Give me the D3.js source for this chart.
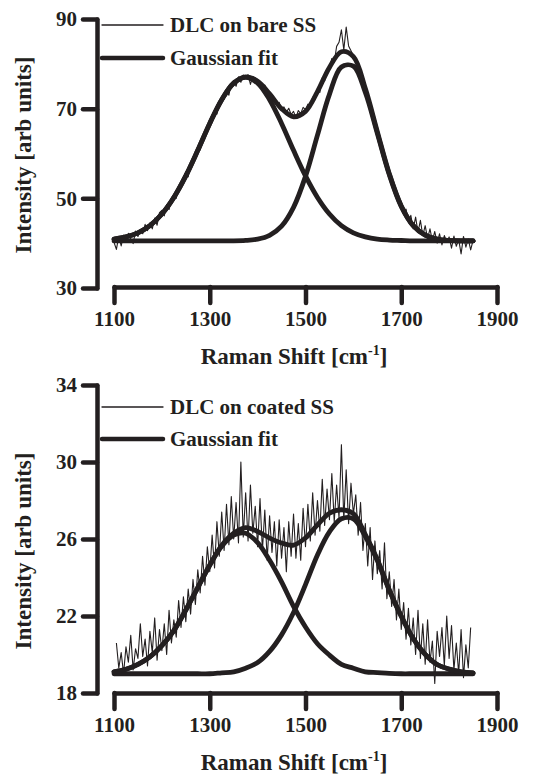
<!DOCTYPE html>
<html>
<head lang="en">
    <meta charset="UTF-8">
    <title>Raman spectra</title>
    <script src="https://cdn.jsdelivr.net/npm/d3@7/dist/d3.min.js"></script>
    <style>
        body{margin:0;background:#fff;}
        text{font-family:"Liberation Serif","Times New Roman",serif;font-weight:bold;fill:#231f20;}
    </style>
</head>
<body>
<div id="tu1"></div>
<script>
    // x grid of the fitted curves (cm-1)
    var fitx=[1100,1125,1150,1175,1200,1225,1250,1275,1300,1325,1350,1375,1400,1425,1450,1475,
              1500,1525,1550,1575,1600,1625,1650,1675,1700,1725,1750,1775,1800,1825,1850];

    // top panel: DLC on bare SS
    var bareD=[40.9,41.4,42.3,43.9,46.5,50.2,55.0,60.7,66.7,72.0,75.7,77.0,75.7,72.0,66.7,60.7,
               55.0,50.2,46.5,43.9,42.3,41.4,40.9,40.7,40.6,40.5,40.5,40.5,40.5,40.5,40.5];
    var bareG=[40.5,40.5,40.5,40.5,40.5,40.5,40.5,40.5,40.5,40.5,40.5,40.6,40.9,41.75,43.8,48.0,
               54.9,64.1,73.2,79.3,79.5,73.6,64.5,55.3,48.2,43.9,41.8,40.9,40.6,40.5,40.5];
    var bareSum=[40.9,41.4,42.3,43.9,46.5,50.2,55.0,60.7,66.7,72.0,75.7,77.1,76.1,73.3,70.0,68.2,
                 69.4,73.8,79.2,82.7,81.6,74.5,64.9,55.5,48.3,43.9,41.8,40.9,40.6,40.5,40.5];
    var bareStart=1100, bareStep=5;
    var bareRaw=[40.2,38.6,41.5,39.4,41.8, 40.6,42.2,41.0,39.9,42.7, 41.5,43.0,42.1,44.2,42.8,
                 44.5,43.2,45.6,44.0,46.8, 47.3,46.1,48.6,47.5,50.1, 50.8,50.0,52.9,52.4,54.6,
                 55.9,54.8,57.9,57.6,60.1, 61.2,60.8,63.8,63.5,66.0, 67.2,66.9,69.5,68.8,71.6,
                 72.5,72.1,74.2,73.0,75.6, 76.3,75.0,77.1,75.9,77.5, 76.8,77.6,75.4,77.2,76.9,
                 76.5,75.9,74.1,75.3,73.6, 73.8,71.5,72.3,71.0,71.4, 69.6,70.4,69.2,70.1,68.7,
                 69.4,68.0,69.6,68.9,70.3, 69.8,71.0,70.4,72.6,72.0, 74.5,73.6,76.9,76.2,78.8,
                 79.0,81.2,80.3,83.9,84.8, 87.6,83.1,88.2,84.0,82.9, 81.8,80.4,79.5,77.0,76.6,
                 74.9,72.2,71.3,68.5,67.4, 65.2,62.6,61.6,59.0,57.8, 55.9,53.7,53.3,51.0,49.9,
                 49.2,46.8,47.6,44.9,46.2, 43.2,45.8,42.4,45.1,41.7, 43.9,41.0,43.2,40.5,42.6,
                 40.0,42.1,39.6,41.7,40.2, 41.4,38.9,41.6,39.3,40.8, 37.6,41.5,39.1,40.9,38.5,
                 40.6,40.4];

    // bottom panel: DLC on coated SS
    var coatD=[19.1,19.23,19.49,19.88,20.46,21.24,22.31,23.48,24.64,25.62,26.2,26.3,25.81,24.89,23.77,22.5,
               21.43,20.56,19.97,19.49,19.29,19.1,19.06,19.02,19.0,19.0,19.0,19.0,19.0,19.0,19.0];
    var coatG=[19.0,19.0,19.0,19.0,19.0,19.0,19.0,19.0,19.0,19.05,19.1,19.29,19.58,20.16,21.02,22.18,
               23.63,25.17,26.37,27.05,27.05,26.13,24.88,23.34,21.99,20.83,20.01,19.48,19.24,19.1,19.04];
    var coatSum=[19.1,19.23,19.49,19.88,20.46,21.24,22.31,23.48,24.64,25.67,26.3,26.59,26.39,26.05,25.79,25.68,
                 26.06,26.73,27.34,27.52,27.32,26.23,24.94,23.36,21.99,20.83,20.01,19.48,19.24,19.1,19.04];
    var coatStart=1105, coatStep=5;
    var coatRaw=[20.6,19.3,20.1,19.0,20.4, 19.6,21.0,19.2,20.3,19.8, 21.6,19.9,20.8,19.4,21.2,
                 20.1,21.9,19.7,21.3,20.2, 21.6,20.0,22.3,20.6,21.8, 20.9,22.8,21.4,23.0,21.7,
                 23.4,22.1,23.9,22.6,24.4, 23.2,25.1,23.6,25.6,24.3, 26.2,24.5,26.9,25.1,27.4,
                 25.4,27.8,25.7,28.2,26.0, 27.9,25.8,30.0,26.1,28.4, 25.9,28.8,26.3,27.7,25.6,
                 28.1,25.4,27.5,24.9,27.2, 25.3,26.9,24.6,27.0,25.0, 26.6,24.3,26.9,25.1,27.3,
                 25.0,26.8,24.9,27.6,25.6, 27.8,25.9,28.4,26.2,28.0, 26.4,29.1,26.7,28.6,27.0,
                 29.4,26.9,28.8,27.1,30.9, 27.0,29.6,26.8,28.9,27.3, 28.3,26.2,27.9,25.4,26.8,
                 24.6,26.6,23.9,25.9,24.2, 25.4,23.4,25.8,22.9,24.3, 22.5,23.9,21.8,23.4,21.3,
                 22.7,20.8,22.4,20.5,21.9, 20.0,22.3,19.8,21.6,19.5, 21.8,19.6,20.7,18.5,21.2,
                 19.9,21.4,19.4,22.0,19.8, 21.5,19.2,20.6,19.0,21.3, 18.8,20.5,19.3,21.4];

    var xticks=[1100,1300,1500,1700,1900];
    var bareTicks=[30,50,70,90];
    var coatTicks=[18,22,26,30,34];

    var ink='#231f20';
    var svg=d3.select('#tu1').append('svg').attr('width',543).attr('height',775);

    function drawPanel(p){
        var x=d3.scaleLinear().domain([1100,1900]).range([114,497]);
        var y=d3.scaleLinear().domain(p.ydomain).range(p.yrange);
        var g=svg.append('g');

        //y axis
        var gy=g.append('g').attr('transform','translate(97,0)')
            .call(d3.axisLeft(y).tickValues(p.yticks).tickSize(14).tickSizeOuter(0).tickPadding(6));
        //x axis
        var gx=g.append('g').attr('transform','translate(0,'+p.xaxisY+')')
            .call(d3.axisBottom(x).tickValues(xticks).tickSize(16).tickSizeOuter(0).tickPadding(8).tickFormat(d3.format('d')));
        [gy,gx].forEach(function(a){
            a.select('.domain').attr('stroke',ink).attr('stroke-width',4.5).attr('stroke-linecap','round');
            a.selectAll('.tick line').attr('stroke',ink).attr('stroke-width',4.5).attr('stroke-linecap','round');
            a.selectAll('.tick text').attr('font-size',21).attr('fill',ink)
                .style('font-family','"Liberation Serif",serif').style('font-weight','bold');
        });

        var line=d3.line().x(function(d){return x(d[0]);}).y(function(d){return y(d[1]);});
        var raw=p.raw.map(function(v,i){return [p.rawStart+i*p.rawStep,v];});
        g.append('path').attr('d',line(raw)).attr('fill','none')
            .attr('stroke',ink).attr('stroke-width',1.1).attr('stroke-linejoin','round');

        var fitLine=d3.line().x(function(d){return x(d[0]);}).y(function(d){return y(d[1]);})
            .curve(d3.curveCatmullRom);
        [p.d,p.gg,p.sum].forEach(function(s){
            g.append('path').attr('d',fitLine(d3.zip(fitx,s))).attr('fill','none')
                .attr('stroke',ink).attr('stroke-width',4.8).attr('stroke-linecap','round');
        });

        //legend
        var leg=g.selectAll('.leg').data(p.legend).enter().append('g')
            .attr('transform',function(d){return 'translate(102,'+d.y+')';});
        leg.append('line').attr('x1',0).attr('x2',61).attr('y1',0).attr('y2',0)
            .attr('stroke',ink).attr('stroke-width',function(d){return d.w;}).attr('stroke-linecap','round');
        leg.append('text').attr('x',68).attr('y',7).attr('font-size',21).text(function(d){return d.label;});

        //titles
        var xt=g.append('text').attr('x',294).attr('y',p.xtitleY).attr('text-anchor','middle').attr('font-size',23);
        xt.append('tspan').text('Raman Shift [cm');
        xt.append('tspan').attr('font-size',14).attr('dy',-9).text('-1');
        xt.append('tspan').attr('dy',9).text(']');
        g.append('text').attr('transform','translate('+31+','+p.ytitleY+') rotate(-90)')
            .attr('text-anchor','middle').attr('font-size',23).text('Intensity [arb units]');
    }

    drawPanel({ydomain:[30,90],yrange:[288,19],yticks:bareTicks,xaxisY:287,
        raw:bareRaw,rawStart:bareStart,rawStep:bareStep,d:bareD,gg:bareG,sum:bareSum,
        legend:[{y:25,w:1.3,label:'DLC on bare SS'},{y:58,w:4.5,label:'Gaussian fit'}],
        xtitleY:364,ytitleY:155});
    drawPanel({ydomain:[18,34],yrange:[693,385],yticks:coatTicks,xaxisY:693,
        raw:coatRaw,rawStart:coatStart,rawStep:coatStep,d:coatD,gg:coatG,sum:coatSum,
        legend:[{y:407,w:1.3,label:'DLC on coated SS'},{y:439,w:4.5,label:'Gaussian fit'}],
        xtitleY:770,ytitleY:551});
</script>
</body>
</html>
